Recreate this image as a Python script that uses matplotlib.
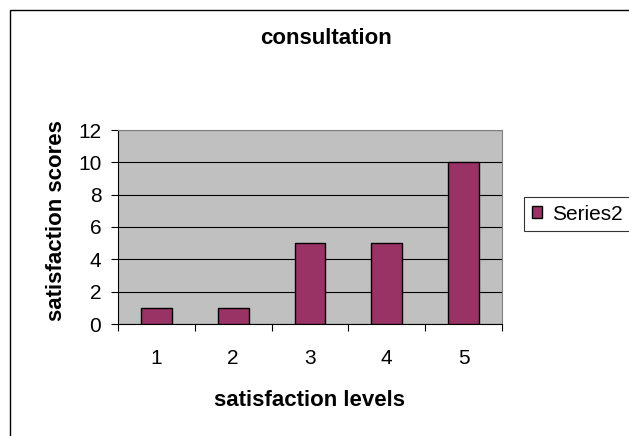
import matplotlib
matplotlib.use('Agg')
import matplotlib.pyplot as plt
from matplotlib.patches import Rectangle

levels = ['1', '2', '3', '4', '5']
scores = [1, 1, 5, 5, 10]
series_name = 'Series2'

plt.rcParams['font.family'] = ['Liberation Sans', 'DejaVu Sans']

fig = plt.figure(figsize = (6.29, 4.36), dpi = 100)
W, H = 629, 436

# chart area border (runs off the right and bottom edges)
fig.patches.append(Rectangle((10 / W, -0.05), 1.0, 1 - 10 / H + 0.05, transform = fig.transFigure,
                             fill = False, edgecolor = 'black', linewidth = 1.0))

ax = fig.add_axes([118 / W, 1 - 324 / H, (502 - 118) / W, (324 - 130) / H])
ax.set_facecolor('#c0c0c0')

x = list(range(1, len(levels) + 1))
ax.bar(x, scores, width = 0.4, color = '#993366', edgecolor = 'black', linewidth = 1.0,
       label = series_name, zorder = 3)

ax.set_xlim(0.5, len(levels) + 0.5)
ax.set_ylim(0, 12)
ax.set_yticks(range(0, 13, 2))
ax.yaxis.grid(True, color = 'black', linewidth = 0.8, zorder = 0)
ax.set_axisbelow(True)

ax.set_xticks([i + 0.5 for i in range(len(levels) + 1)])
ax.set_xticklabels([])
ax.set_xticks(x, minor = True)
ax.set_xticklabels(levels, minor = True)
ax.tick_params(axis = 'x', which = 'minor', length = 0, pad = 18, labelsize = 15)
ax.tick_params(axis = 'x', which = 'major', length = 5, direction = 'out')
ax.tick_params(axis = 'y', length = 5, direction = 'out', labelsize = 15, pad = 7)

for side in ['top', 'right']:
    ax.spines[side].set_color('#808080')

fig.text(326 / W, 1 - 38 / H, 'consultation', ha = 'center', va = 'center',
         fontsize = 16, fontweight = 'bold')
fig.text(310 / W, 1 - 400 / H, 'satisfaction levels', ha = 'center', va = 'center',
         fontsize = 16, fontweight = 'bold')
fig.text(57 / W, 1 - 221 / H, 'satisfaction scores', ha = 'center', va = 'center',
         fontsize = 16, fontweight = 'bold', rotation = 90)

leg = fig.legend(loc = 'upper left', bbox_to_anchor = (524 / W, 1 - 197 / H), fontsize = 15,
                 frameon = True, fancybox = False, edgecolor = 'black', handlelength = 0.48,
                 handleheight = 0.48, handletextpad = 0.53, borderpad = 0.36, borderaxespad = 0)
leg.get_frame().set_linewidth(0.8)

plt.savefig('out.png', dpi = 100)
